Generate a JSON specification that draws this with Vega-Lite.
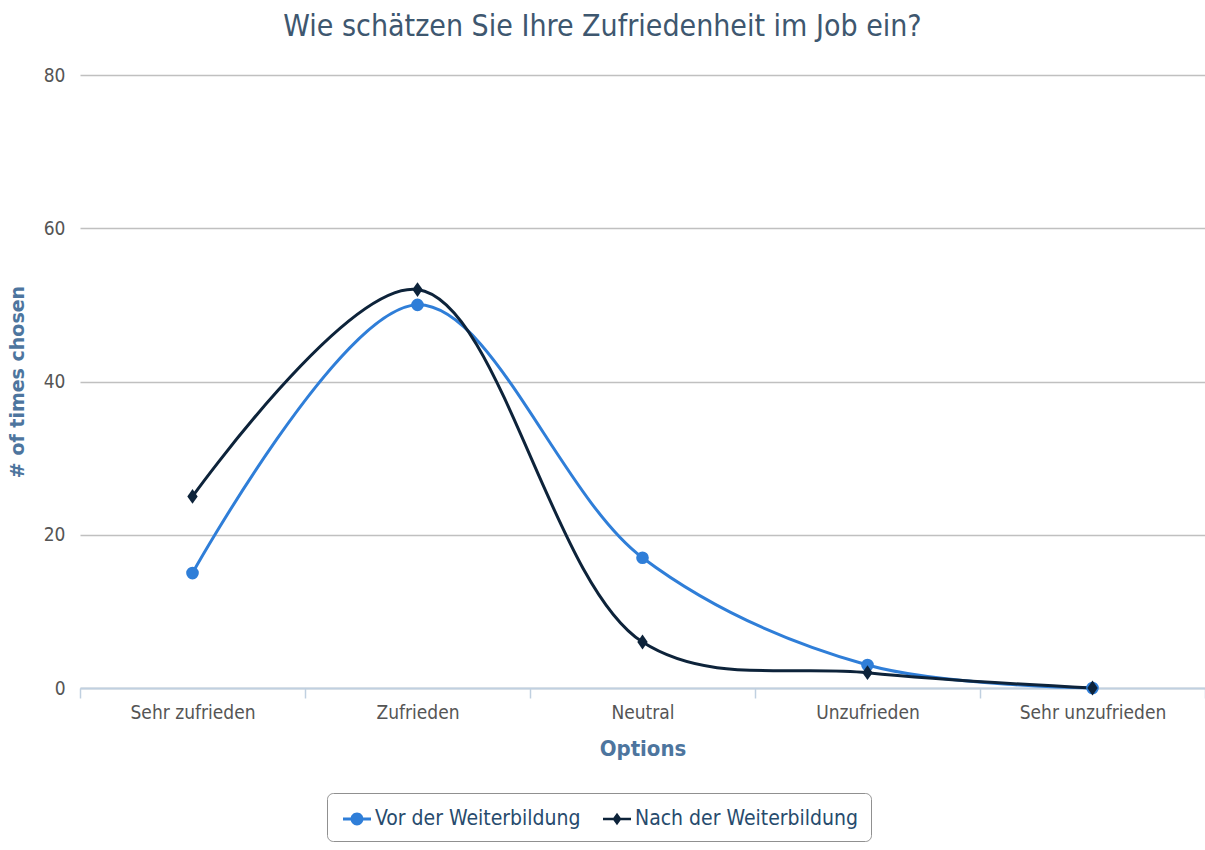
{
  "$schema": "https://vega.github.io/schema/vega-lite/v6.json",
  "width": 1125,
  "height": 613,
  "autosize": "none",
  "padding": {"left": 80, "top": 75, "right": 0, "bottom": 162},
  "background": "white",
  "title": {
    "text": "Wie schätzen Sie Ihre Zufriedenheit im Job ein?",
    "anchor": "middle",
    "dx": -40,
    "offset": 24,
    "font": "Liberation Sans Narrow, DejaVu Sans Condensed, sans-serif",
    "fontSize": 30,
    "fontWeight": "normal",
    "color": "#3e576f"
  },
  "data": {
    "values": [
      {"option": "Sehr zufrieden", "series": "Vor der Weiterbildung", "count": 15},
      {"option": "Zufrieden", "series": "Vor der Weiterbildung", "count": 50},
      {"option": "Neutral", "series": "Vor der Weiterbildung", "count": 17},
      {"option": "Unzufrieden", "series": "Vor der Weiterbildung", "count": 3},
      {"option": "Sehr unzufrieden", "series": "Vor der Weiterbildung", "count": 0},
      {"option": "Sehr zufrieden", "series": "Nach der Weiterbildung", "count": 25},
      {"option": "Zufrieden", "series": "Nach der Weiterbildung", "count": 52},
      {"option": "Neutral", "series": "Nach der Weiterbildung", "count": 6},
      {"option": "Unzufrieden", "series": "Nach der Weiterbildung", "count": 2},
      {"option": "Sehr unzufrieden", "series": "Nach der Weiterbildung", "count": 0}
    ]
  },
  "encoding": {
    "x": {
      "field": "option",
      "type": "nominal",
      "sort": ["Sehr zufrieden", "Zufrieden", "Neutral", "Unzufrieden", "Sehr unzufrieden"],
      "scale": {"type": "band", "paddingInner": 0, "paddingOuter": 0},
      "axis": {
        "title": "Options",
        "titleFont": "Liberation Sans Narrow, DejaVu Sans Condensed, sans-serif",
        "titleFontSize": 22,
        "titleFontWeight": "bold",
        "titleColor": "#4d759e",
        "titlePadding": 16,
        "labelAngle": 0,
        "labelFont": "Liberation Sans Narrow, DejaVu Sans Condensed, sans-serif",
        "labelFontSize": 19,
        "labelColor": "#555555",
        "labelPadding": 5,
        "grid": false,
        "domainColor": "#c0d0e0",
        "domainWidth": 2,
        "ticks": true,
        "tickBand": "extent",
        "tickColor": "#c0d0e0",
        "tickWidth": 1.5,
        "tickSize": 10
      }
    },
    "y": {
      "field": "count",
      "type": "quantitative",
      "scale": {"domain": [0, 80], "nice": false},
      "axis": {
        "title": "# of times chosen",
        "titleFont": "DejaVu Sans",
        "titleFontSize": 19,
        "titleFontWeight": "bold",
        "titleColor": "#4d759e",
        "titlePadding": 16,
        "values": [0, 20, 40, 60, 80],
        "labelFont": "Liberation Sans Narrow, DejaVu Sans Condensed, sans-serif",
        "labelFontSize": 19,
        "labelColor": "#555555",
        "labelPadding": 15,
        "ticks": false,
        "domain": false,
        "gridColor": "#c0c0c0",
        "gridWidth": 1.5
      }
    },
    "color": {
      "field": "series",
      "type": "nominal",
      "scale": {
        "domain": ["Vor der Weiterbildung", "Nach der Weiterbildung"],
        "range": ["#2f7ed8", "#0d233a"]
      },
      "legend": {
        "title": null,
        "orient": "none",
        "legendX": 247,
        "legendY": 718,
        "direction": "horizontal",
        "labelFont": "Liberation Sans Narrow, DejaVu Sans Condensed, sans-serif",
        "labelFontSize": 21,
        "labelColor": "#274b6d",
        "labelLimit": 400,
        "symbolSize": 784,
        "symbolStrokeWidth": 0,
        "columnPadding": 18,
        "symbolOffset": 4,
        "padding": 12,
        "strokeColor": "#909090",
        "cornerRadius": 6,
        "fillColor": "white",
        "encode": {
          "symbols": {
            "update": {
              "shape": {"signal": "datum.value === 'Vor der Weiterbildung' ? 'M-1,-0.11L1,-0.11L1,0.11L-1,0.11Z M-0.46,0A0.46,0.46 0 1,1 0.46,0A0.46,0.46 0 1,1 -0.46,0Z' : 'M-1,-0.09L1,-0.09L1,0.09L-1,0.09Z M0,-0.45L0.32,0L0,0.45L-0.32,0Z'"},
              "strokeWidth": {"value": 0},
              "fillOpacity": {"value": 1}
            }
          }
        }
      }
    }
  },
  "layer": [
    {
      "mark": {"type": "line", "interpolate": "catmull-rom", "strokeWidth": 3}
    },
    {
      "transform": [{"filter": "datum.series === 'Vor der Weiterbildung'"}],
      "mark": {"type": "point", "filled": true, "opacity": 1, "size": 160, "shape": "circle"}
    },
    {
      "transform": [{"filter": "datum.series === 'Nach der Weiterbildung'"}],
      "mark": {"type": "point", "filled": true, "opacity": 1, "size": 220, "shape": "M0,-1L0.7,0L0,1L-0.7,0Z"}
    }
  ],
  "config": {
    "view": {"stroke": null}
  }
}
